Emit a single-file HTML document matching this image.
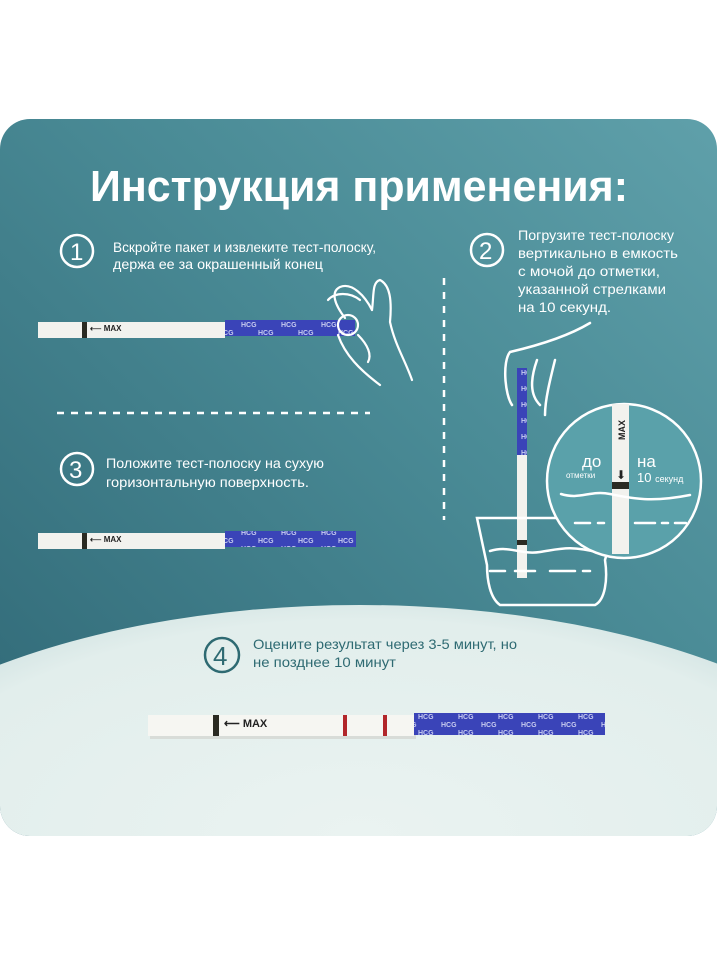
<!DOCTYPE html>
<html><head><meta charset="utf-8"><style>
html,body{margin:0;padding:0;background:#fff;width:717px;height:956px;overflow:hidden;}
svg{display:block;}
text{font-family:"Liberation Sans Narrow","Liberation Sans",sans-serif;}
</style></head><body>
<svg width="717" height="956" viewBox="0 0 717 956" xmlns="http://www.w3.org/2000/svg">
<defs>
<linearGradient id="bg" x1="0" y1="1" x2="1" y2="0">
<stop offset="0" stop-color="#2f6775"/><stop offset="0.6" stop-color="#4a8b96"/><stop offset="1" stop-color="#5fa0aa"/>
</linearGradient>
<radialGradient id="lt" cx="0.5" cy="0.45" r="0.6">
<stop offset="0" stop-color="#eaf3f1"/><stop offset="0.7" stop-color="#e2eeec"/><stop offset="1" stop-color="#b9d3d4"/>
</radialGradient>
<clipPath id="card"><rect x="0" y="119" width="717" height="717" rx="30"/></clipPath>
<pattern id="blue" width="40" height="16" patternUnits="userSpaceOnUse">
<rect width="40" height="16" fill="#3a44b8"/>
<text x="1" y="7" font-size="7" fill="#c8ccf0" font-weight="bold">HCG</text>
<text x="18" y="15" font-size="7" fill="#c8ccf0" font-weight="bold">HCG</text>
</pattern>
</defs>
<g clip-path="url(#card)">
<rect x="0" y="119" width="717" height="717" fill="url(#bg)"/>
<ellipse cx="360" cy="860" rx="560" ry="255" fill="url(#lt)"/>
</g>
<text x="90" y="201" font-size="44" font-weight="bold" fill="#fff" textLength="538" lengthAdjust="spacingAndGlyphs">Инструкция применения:</text>

<g fill="none" stroke="#fff" stroke-width="2.5">
<circle cx="77" cy="251" r="16"/><circle cx="487" cy="250" r="16"/><circle cx="77" cy="469" r="16"/>
</g>
<text x="70" y="260" font-size="24" fill="#fff">1</text>
<text x="479" y="259" font-size="24" fill="#fff">2</text>
<text x="69" y="478" font-size="24" fill="#fff">3</text>
<g fill="#fff" font-size="14">
<text x="113" y="252" textLength="263" lengthAdjust="spacingAndGlyphs">Вскройте пакет и извлеките тест-полоску,</text>
<text x="113" y="269" textLength="210" lengthAdjust="spacingAndGlyphs">держа ее за окрашенный конец</text>
<text x="518" y="240" textLength="156" lengthAdjust="spacingAndGlyphs">Погрузите тест-полоску</text>
<text x="518" y="258" textLength="160" lengthAdjust="spacingAndGlyphs">вертикально в емкость</text>
<text x="518" y="276" textLength="142" lengthAdjust="spacingAndGlyphs">с мочой до отметки,</text>
<text x="518" y="294" textLength="148" lengthAdjust="spacingAndGlyphs">указанной стрелками</text>
<text x="518" y="312" textLength="93" lengthAdjust="spacingAndGlyphs">на 10 секунд.</text>
<text x="106" y="468" textLength="218" lengthAdjust="spacingAndGlyphs">Положите тест-полоску на сухую</text>
<text x="106" y="487" textLength="203" lengthAdjust="spacingAndGlyphs">горизонтальную поверхность.</text>
</g>
<line x1="57" y1="413" x2="370" y2="413" stroke="#fff" stroke-width="2.5" stroke-dasharray="7,7"/>
<line x1="444" y1="278" x2="444" y2="520" stroke="#fff" stroke-width="2.5" stroke-dasharray="7,7"/>

<!-- strip 1 -->
<g>
<rect x="38" y="322" width="187" height="16" fill="#f2f2ee"/>
<rect x="225" y="320" width="130" height="16" fill="url(#blue)"/>
<rect x="82" y="322" width="5" height="16" fill="#2a2a22"/>
<text x="90" y="331" font-size="8" font-weight="bold" fill="#222">⟵ MAX</text>
</g>
<!-- strip 3 -->
<g>
<rect x="38" y="533" width="187" height="16" fill="#f2f2ee"/>
<rect x="225" y="531" width="131" height="16" fill="url(#blue)"/>
<rect x="82" y="533" width="5" height="16" fill="#2a2a22"/>
<text x="90" y="542" font-size="8" font-weight="bold" fill="#222">⟵ MAX</text>
</g>
<!-- hand 1 -->
<g fill="none" stroke="#fff" stroke-width="2.2" stroke-linecap="round" stroke-linejoin="round">
<path d="M345 318 C335 305 330 292 340 287 C352 282 365 296 372 310"/>
<path d="M328 300 C335 292 350 292 360 300"/>
<path d="M372 310 C374 295 372 282 380 280 C390 285 392 300 390 322 C395 345 405 360 412 380"/>
<circle cx="348" cy="325" r="10"/>
<path d="M338 335 C345 355 360 370 380 385"/>
<path d="M358 335 C368 345 372 355 368 362"/>
</g>
<!-- glass + strip 2 -->
<rect x="517" y="368" width="10" height="210" fill="#f2f2ee"/>
<rect x="517" y="368" width="10" height="87" fill="url(#blue)"/>
<rect x="517" y="540" width="10" height="5" fill="#2a2a22"/>
<g fill="none" stroke="#fff" stroke-width="2.5" stroke-linecap="round">
<path d="M590 323 C570 335 540 345 510 352 C502 362 505 395 512 405"/>
<path d="M537 360 C530 380 530 395 540 405 M555 360 C550 380 545 400 545 415"/>
<path d="M477 518 L617 518 L605 560 C608 580 605 600 595 605 L500 605 C490 598 487 580 487 565 Z"/>
<path d="M490 551 C510 545 520 555 540 552 S570 545 600 553"/>
<path d="M490 571 H505 M515 571 H535 M550 571 H575 M583 571 H590"/>
</g>
<circle cx="624" cy="481" r="77" fill="#5aa1aa" stroke="#fff" stroke-width="2.5"/>
<rect x="612" y="404" width="17" height="150" fill="#f2f2ee"/>
<rect x="612" y="482" width="17" height="7" fill="#2a2a22"/>
<text x="625" y="440" font-size="9" font-weight="bold" fill="#222" transform="rotate(-90 625 440)">MAX</text>
<text x="616" y="479" font-size="12" fill="#222">⬇</text>
<g fill="none" stroke="#fff" stroke-width="2.5" stroke-linecap="round">
<path d="M561 494 C580 500 590 490 610 494 S650 503 690 495"/>
<path d="M575 523 H590 M598 523 H604 M635 523 H655 M662 523 H668 M675 523 H686"/>
</g>
<text x="582" y="467" font-size="17" fill="#fff">до</text>
<text x="566" y="478" font-size="8" fill="#fff">отметки</text>
<text x="637" y="467" font-size="17" fill="#fff">на</text>
<text x="637" y="482" font-size="13" fill="#fff">10 <tspan font-size="9">секунд</tspan></text>

<!-- step 4 -->
<circle cx="222" cy="655" r="17" fill="none" stroke="#2e6a72" stroke-width="2.5"/>
<text x="213" y="665" font-size="26" fill="#2e6a72">4</text>
<text x="253" y="649" font-size="14" fill="#2e6a72" textLength="264" lengthAdjust="spacingAndGlyphs">Оцените результат через 3-5 минут, но</text>
<text x="253" y="667" font-size="14" fill="#2e6a72" textLength="143" lengthAdjust="spacingAndGlyphs">не позднее 10 минут</text>
<!-- strip 4 -->
<g>
<rect x="150" y="717" width="266" height="22" fill="#d8dcd8"/>
<rect x="148" y="715" width="266" height="21" fill="#f6f6f2"/>
<rect x="414" y="713" width="191" height="22" fill="url(#blue)"/>
<rect x="213" y="715" width="6" height="21" fill="#2a2a22"/>
<text x="224" y="727" font-size="11" font-weight="bold" fill="#222">⟵ MAX</text>
<rect x="343" y="715" width="4" height="21" fill="#b2262a"/>
<rect x="383" y="715" width="4" height="21" fill="#b2262a"/>
</g>
</svg>
</body></html>
